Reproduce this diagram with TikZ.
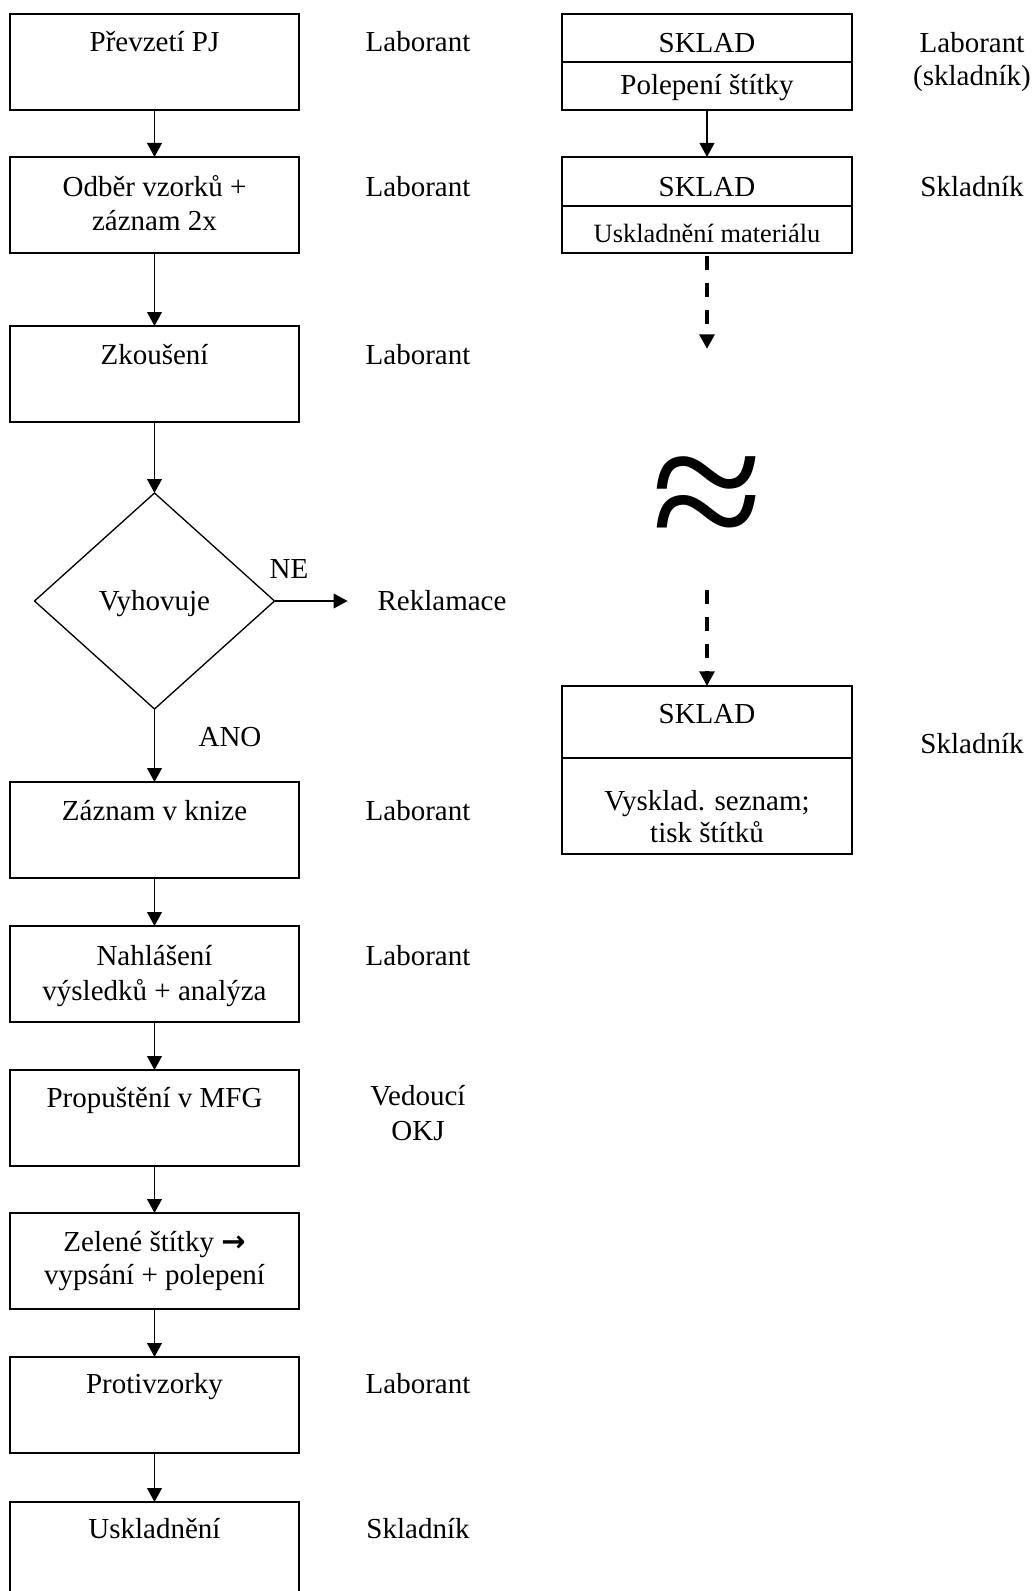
\documentclass[tikz,border=0pt]{standalone}
\usepackage{fontspec}
\setmainfont{Liberation Serif}
\newfontfamily\arrowfont{DejaVu Sans}
\usetikzlibrary{arrows.meta,shapes.geometric}
\begin{document}
\begin{tikzpicture}[x=0.75pt,y=-0.75pt,
  every node/.style={inner sep=0pt,outer sep=0pt},
  txt/.style={font=\fontsize{21.75pt}{25.5pt}\selectfont,anchor=base},
  smalltxt/.style={font=\fontsize{19.8pt}{23pt}\selectfont,anchor=base},
  procbox/.style={draw,line width=1pt,minimum width=216.75pt,minimum height=72pt},
  skladbox/.style={draw,line width=1pt,minimum width=217.5pt,minimum height=72pt},
  decision/.style={draw,diamond,line width=1pt,minimum width=180pt,minimum height=162pt},
  flow/.style={line width=1.4pt,-{Triangle[width=11pt,length=10.5pt]}},
  dflow/.style={line width=3.4pt,dash pattern=on 10.5pt off 9.75pt,-{Triangle[width=11pt,length=11pt]}},
  divider/.style={line width=1pt},
  approx/.style={font=\fontsize{153pt}{160pt}\selectfont,anchor=center,yscale=0.95}
]
\useasboundingbox (0,0) rectangle (1033,1591);
\clip (0,0) rectangle (1033,1591);

% ---- left column boxes
\node[procbox] (b1) at (154.5,62) {};
\node[procbox] (b2) at (154.5,205) {};
\node[procbox] (b3) at (154.5,374) {};
\node[decision] (dia) at (154.5,601) {};
\node[procbox] (b4) at (154.5,830) {};
\node[procbox] (b5) at (154.5,974) {};
\node[procbox] (b6) at (154.5,1118) {};
\node[procbox] (b7) at (154.5,1261) {};
\node[procbox] (b8) at (154.5,1405) {};
\node[procbox] (b9) at (154.5,1550) {};

% ---- left column texts
\node[txt] (t1) at (154.5,52) {Převzetí PJ};
\node[txt] (t2a) at (154.5,196) {Odběr vzorků +};
\node[txt] (t2b) at (154.5,230) {záznam 2x};
\node[txt] (t3) at (154.5,364) {Zkoušení};
\node[txt] (td) at (154.5,610) {Vyhovuje};
\node[txt] (t4) at (154.5,820) {Záznam v knize};
\node[txt] (t5a) at (154.5,965) {Nahlášení};
\node[txt] (t5b) at (154.5,1000) {výsledků + analýza};
\node[txt] (t6) at (154.5,1107) {Propuštění v MFG};
\node[txt] (t7a) at (154.5,1251) {Zelené štítky {\arrowfont\bfseries →}};
\node[txt] (t7b) at (154.5,1284) {vypsání + polepení};
\node[txt] (t8) at (154.5,1393) {Protivzorky};
\node[txt] (t9) at (154.5,1538) {Uskladnění};

% ---- role labels (left)
\node[txt] (r1) at (418,52) {Laborant};
\node[txt] (r2) at (418,196) {Laborant};
\node[txt] (r3) at (418,364) {Laborant};
\node[txt] (r4) at (418,820) {Laborant};
\node[txt] (r5) at (418,965) {Laborant};
\node[txt] (r6a) at (418,1105) {Vedoucí};
\node[txt] (r6b) at (418,1140) {OKJ};
\node[txt] (r8) at (418,1393) {Laborant};
\node[txt] (r9) at (418,1538) {Skladník};

\node[txt] (rekl) at (442,610) {Reklamace};
\node[txt] (ne) at (289,578) {NE};
\node[txt] (ano) at (230,746) {ANO};

% ---- left connectors
\draw[flow] (b1.south) -- (b2.north);
\draw[flow] (b2.south) -- (b3.north);
\draw[flow] (b3.south) -- (dia.north);
\draw[flow] (dia.south) -- (b4.north);
\draw[flow] (dia.east) -- ([xshift=-22.5pt]rekl.west |- dia.east);
\draw[flow] (b4.south) -- (b5.north);
\draw[flow] (b5.south) -- (b6.north);
\draw[flow] (b6.south) -- (b7.north);
\draw[flow] (b7.south) -- (b8.north);
\draw[flow] (b8.south) -- (b9.north);

% ---- right column
\node[skladbox] (rA) at (707,62) {};
\draw[divider] (rA.west) -- (rA.east);
\node[skladbox] (rB) at (707,205) {};
\draw[divider] ([yshift=-0.75pt]rB.west) -- ([yshift=-0.75pt]rB.east);
\node[skladbox,minimum height=126pt] (rC) at (707,770) {};
\draw[divider] ([yshift=-54pt]rC.north west) -- ([yshift=-54pt]rC.north east);

\node[txt] (sA1) at (707,53) {SKLAD};
\node[txt] (sA2) at (707,95) {Polepení štítky};
\node[txt] (sB1) at (707,196) {SKLAD};
\node[smalltxt] (sB2) at (707,242) {Uskladnění materiálu};
\node[txt] (sC1) at (707,723) {SKLAD};
\node[txt] (sC2) at (707,810) {Vysklad. seznam;};
\node[txt] (sC3) at (707,842) {tisk štítků};

\node[txt] (q1a) at (972,53) {Laborant};
\node[txt] (q1b) at (972,86) {(skladník)};
\node[txt] (q2) at (972,196) {Skladník};
\node[txt] (q3) at (972,753) {Skladník};

\coordinate (d1end) at (707,349);
\coordinate (d2start) at (707,590);
\draw[flow] (rA.south) -- (rB.north);
\draw[dflow] ([yshift=-2.25pt]rB.south) -- (d1end);
\draw[dflow] (d2start) -- (rC.north);

\node[approx] (apx) at (707,507) {≈};
\end{tikzpicture}
\end{document}
